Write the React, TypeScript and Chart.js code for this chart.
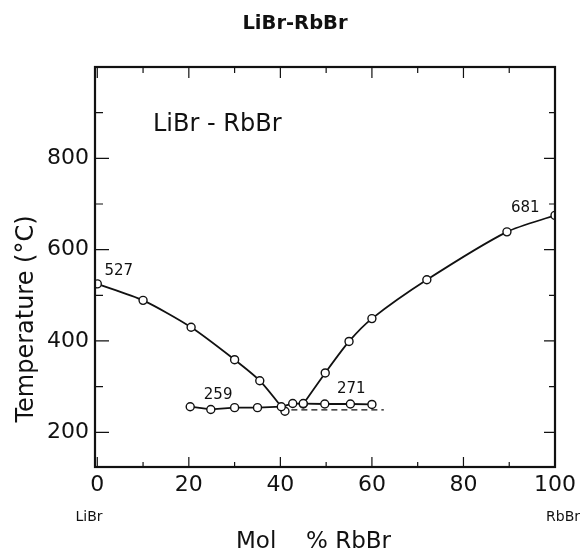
import { useEffect, useRef } from "react";
import { Chart, registerables } from "chart.js";

Chart.register(...registerables);

// ---- data ----
const liquidusLiBrX = [0, 10, 20.5, 30, 35.5, 41];
const liquidusLiBrY = [525, 489, 430, 359, 313, 246];
const liquidusRbBrX = [45, 49.8, 55, 60, 72, 89.5, 100];
const liquidusRbBrY = [262, 330, 399, 449, 534, 639, 675];
const solidusX = [20.3, 24.8, 30, 35, 40.2, 42.7, 45, 49.7, 55.3, 60];
const solidusY = [256, 250, 254, 254, 256, 263, 263, 262, 262, 261];
const dashedX = [42.4, 62.6];
const dashedY = [249, 249];

const xTickValues = [0, 10, 20, 30, 40, 50, 60, 70, 80, 90, 100];
const xLabelValues = [0, 20, 40, 60, 80, 100];
const yTickValues = [200, 300, 400, 500, 600, 700, 800, 900];
const yLabelValues = [200, 400, 600, 800];

const noteTexts = ["527", "259", "271", "681"];
const noteX = [4.7, 26.4, 55.5, 93.5];
const noteY = [552, 282, 294, 691];

const FONT = "'DejaVu Sans', sans-serif";
const INK = "#111";

const pts = (xs: number[], ys: number[]) => xs.map((x, i) => ({ x, y: ys[i] }));

const framePlugin = {
  id: "frameAndText",
  afterDatasetsDraw(chart: any) {
    const { ctx, chartArea: a, scales } = chart;
    const xs = scales.x;
    const ys = scales.y;
    ctx.save();
    ctx.strokeStyle = INK;
    ctx.fillStyle = INK;
    // frame
    ctx.lineWidth = 2.2;
    ctx.strokeRect(a.left, a.top, a.right - a.left, a.bottom - a.top);
    // inward ticks
    ctx.lineWidth = 1.2;
    ctx.beginPath();
    xTickValues.forEach((v) => {
      const px = xs.getPixelForValue(v);
      const major = xLabelValues.includes(v);
      const lb = major ? 10 : 5;
      const lt = major ? 11 : 6;
      ctx.moveTo(px, a.bottom);
      ctx.lineTo(px, a.bottom - lb);
      ctx.moveTo(px, a.top);
      ctx.lineTo(px, a.top + lt);
    });
    yTickValues.forEach((v) => {
      const py = ys.getPixelForValue(v);
      const major = yLabelValues.includes(v);
      const ll = major ? 14 : 8;
      const lr = major ? 11 : 6;
      ctx.moveTo(a.left, py);
      ctx.lineTo(a.left + ll, py);
      ctx.moveTo(a.right, py);
      ctx.lineTo(a.right - lr, py);
    });
    ctx.stroke();

    // annotations
    ctx.font = `15px ${FONT}`;
    ctx.textAlign = "center";
    ctx.textBaseline = "middle";
    noteTexts.forEach((t, i) => {
      ctx.fillText(t, xs.getPixelForValue(noteX[i]), ys.getPixelForValue(noteY[i]));
    });

    // inner label
    ctx.font = `24px ${FONT}`;
    ctx.textAlign = "left";
    ctx.textBaseline = "alphabetic";
    ctx.fillText("LiBr - RbBr", 153, 131);

    // title
    ctx.font = `bold 19.5px ${FONT}`;
    ctx.textAlign = "center";
    ctx.textBaseline = "middle";
    ctx.fillText("LiBr-RbBr", 295, 24);

    // end-member labels
    ctx.font = `14px ${FONT}`;
    ctx.textAlign = "center";
    ctx.fillText("LiBr", 89, 517);
    ctx.textAlign = "right";
    ctx.fillText("RbBr", 580, 517);

    // x-axis title
    ctx.font = `23px ${FONT}`;
    ctx.textAlign = "left";
    ctx.textBaseline = "alphabetic";
    ctx.fillText("Mol", 236, 548);
    ctx.fillText("% RbBr", 306, 548);

    // y-axis title
    ctx.translate(27, 319);
    ctx.rotate(-Math.PI / 2);
    ctx.textAlign = "center";
    ctx.textBaseline = "middle";
    ctx.font = `24px ${FONT}`;
    ctx.fillText("Temperature (\u00B0C)", 0, 0);
    ctx.restore();
  },
};

export default function App() {
  const ref = useRef<HTMLCanvasElement | null>(null);

  useEffect(() => {
    if (!ref.current) return;
    const lineDs = (data: any[], extra: any = {}) => ({
      data,
      borderColor: INK,
      borderWidth: 1.8,
      pointRadius: 4,
      pointBorderWidth: 1.4,
      pointBackgroundColor: "#fff",
      pointBorderColor: INK,
      tension: 0.25,
      fill: false,
      ...extra,
    });
    const chart = new Chart(ref.current, {
      type: "line",
      data: {
        datasets: [
          lineDs(pts(dashedX, dashedY), { borderDash: [6, 4], pointRadius: 0, borderWidth: 1.4, tension: 0 }),
          lineDs(pts(solidusX, solidusY), { tension: 0 }),
          lineDs(pts(liquidusLiBrX, liquidusLiBrY)),
          lineDs(pts(liquidusRbBrX, liquidusRbBrY)),
        ],
      },
      options: {
        animation: false,
        responsive: true,
        maintainAspectRatio: false,
        layout: { padding: { top: 67, right: 24, left: 0, bottom: 0 }, autoPadding: false },
        plugins: { legend: { display: false }, tooltip: { enabled: false }, title: { display: false } },
        scales: {
          x: {
            type: "linear",
            min: -0.5,
            max: 100,
            grid: { display: false, drawTicks: false },
            border: { display: false },
            afterFit: (s: any) => {
              s.height = 85;
            },
            afterBuildTicks: (s: any) => {
              s.ticks = xLabelValues.map((v) => ({ value: v }));
            },
            ticks: {
              padding: 5,
              color: INK,
              font: { family: FONT, size: 22 },
              maxRotation: 0,
              autoSkip: false,
              callback: (v: any) => String(v),
            },
          },
          y: {
            type: "linear",
            min: 124,
            max: 1000,
            grid: { display: false, drawTicks: false },
            border: { display: false },
            afterFit: (s: any) => {
              s.width = 95;
            },
            afterBuildTicks: (s: any) => {
              s.ticks = yLabelValues.map((v) => ({ value: v }));
            },
            ticks: {
              padding: 6,
              color: INK,
              font: { family: FONT, size: 22 },
              autoSkip: false,
              callback: (v: any) => String(v),
            },
          },
        },
      },
      plugins: [framePlugin],
    });
    return () => chart.destroy();
  }, []);

  return (
    <div style={{ position: "absolute", left: 0, top: 0, width: 581, height: 552, background: "#fff" }}>
      <canvas ref={ref} />
    </div>
  );
}
